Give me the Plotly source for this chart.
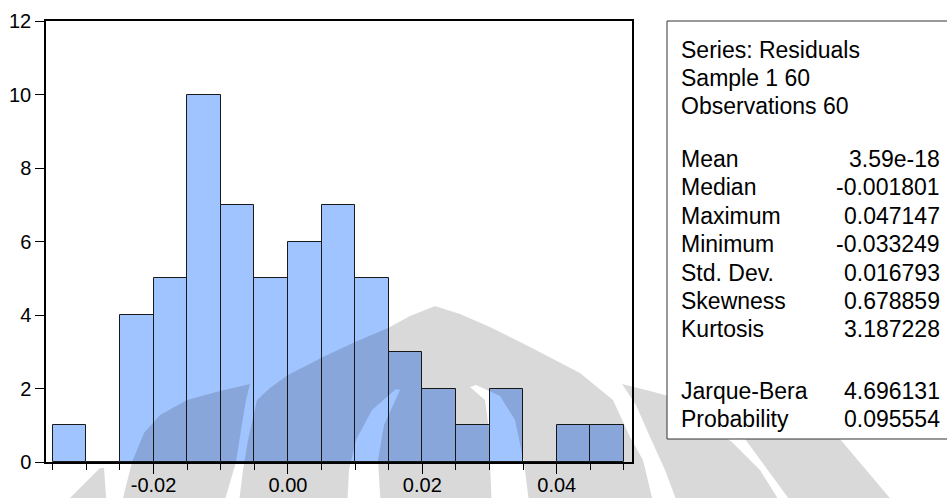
import plotly.graph_objects as go

# ---------------- data ----------------
bin_left = [-0.035, -0.030, -0.025, -0.020, -0.015, -0.010, -0.005, 0.000,
            0.005, 0.010, 0.015, 0.020, 0.025, 0.030, 0.035, 0.040, 0.045]
counts = [1, 0, 4, 5, 10, 7, 5, 6, 7, 5, 3, 2, 1, 2, 0, 1, 1]
bin_width = 0.005

x_tickvals = [-0.02, 0.00, 0.02, 0.04]
x_ticktext = ["-0.02", "0.00", "0.02", "0.04"]
y_tickvals = [0, 2, 4, 6, 8, 10, 12]

stat_header = ["Series: Residuals", "Sample 1 60", "Observations 60"]
stat_names = ["Mean", "Median", "Maximum", "Minimum", "Std. Dev.", "Skewness", "Kurtosis"]
stat_values = ["3.59e-18", "-0.001801", "0.047147", "-0.033249", "0.016793", "0.678859", "3.187228"]
test_names = ["Jarque-Bera", "Probability"]
test_values = ["4.696131", "0.095554"]

# ---------------- layout geometry ----------------
W, H = 947, 498
ML, MR, MT, MB = 46, 315, 21, 36
PW = W - ML - MR
PH = H - MT - MB


def px(x):
    return (x - ML) / PW


def py(y):
    return (H - MB - y) / PH


def path_from(points, close=True):
    s = "M " + " L ".join(f"{px(a):.5f},{py(b):.5f}" for a, b in points)
    return s + (" Z" if close else "")


centers = [b + bin_width / 2 for b in bin_left]

FONT = "Arial, Liberation Sans, Helvetica, sans-serif"

fig = go.Figure()
fig.add_trace(go.Bar(
    x=centers, y=counts, width=bin_width,
    marker=dict(color="#A0C4FF", line=dict(color="#1a1a1a", width=1)),
    showlegend=False, hoverinfo="x+y",
))

# background watermark (decoration, approximate)
wm_polys = [
    # central arch with two thin gaps
    [(238, 510), (243, 470), (248, 440), (257, 400), (270, 388), (288, 375), (323, 357),
     (355, 342), (388, 328), (410, 316), (435, 306), (460, 314), (490, 327), (530, 347),
     (580, 373), (613, 400), (630, 437), (643, 460), (655, 510),
     (530, 510), (524, 463), (515, 420), (500, 396), (476, 385),
     (470, 387), (485, 400), (489, 430), (490, 463), (492, 510),
     (381, 510), (378, 460), (384, 425), (400, 390),
     (396, 389), (372, 410), (356, 440), (349, 470), (347, 510)],
    # left wing
    [(120, 510), (132, 462), (144, 433), (160, 415), (187, 400), (220, 391), (250, 384),
     (246, 400), (241, 430), (236, 462), (222, 510)],
    # far-left wedge
    [(58, 510), (100, 468), (104, 468), (107, 510)],
    # right wing
    [(622, 384), (650, 391), (683, 400), (710, 415), (728, 439), (733, 443), (760, 470),
     (785, 510), (680, 510), (665, 470), (650, 437), (636, 405)],
    # far-right piece
    [(745, 439), (840, 439), (900, 510), (797, 510)],
]

shapes = []
for poly in wm_polys:
    shapes.append(dict(type="path", xref="paper", yref="paper", path=path_from(poly),
                       fillcolor="rgba(0,0,0,0.15)", line=dict(width=0), layer="above"))

# statistics box (white panel, border on left/top/bottom; right edge runs off the image)
box_l, box_r, box_t, box_b = 667, 947, 21, 439
shapes.append(dict(type="rect", xref="paper", yref="paper",
                   x0=px(box_l), x1=px(box_r + 5), y0=py(box_b), y1=py(box_t),
                   fillcolor="white", line=dict(width=0), layer="above"))
for (a, b), (c, d) in [((box_l, box_t), (box_r, box_t)),
                       ((box_l, box_t), (box_l, box_b)),
                       ((box_l, box_b), (box_r, box_b))]:
    shapes.append(dict(type="line", xref="paper", yref="paper",
                       x0=px(a), y0=py(b), x1=px(c), y1=py(d),
                       line=dict(color="#333333", width=1), layer="above"))

annotations = []
LX, RX = px(679), px(942)
header_y = [50, 78, 106]
for t, yy in zip(stat_header, header_y):
    annotations.append(dict(x=LX, y=py(yy), xref="paper", yref="paper", text=t,
                            showarrow=False, xanchor="left", yanchor="middle",
                            font=dict(family=FONT, size=23, color="black")))
stat_y = [158.5, 187, 215.5, 244, 272.5, 301, 329.5]
for n, v, yy in zip(stat_names, stat_values, stat_y):
    annotations.append(dict(x=LX, y=py(yy), xref="paper", yref="paper", text=n,
                            showarrow=False, xanchor="left", yanchor="middle",
                            font=dict(family=FONT, size=23, color="black")))
    annotations.append(dict(x=RX, y=py(yy), xref="paper", yref="paper", text=v,
                            showarrow=False, xanchor="right", yanchor="middle",
                            font=dict(family=FONT, size=23, color="black")))
test_y = [391, 419]
for n, v, yy in zip(test_names, test_values, test_y):
    annotations.append(dict(x=LX, y=py(yy), xref="paper", yref="paper", text=n,
                            showarrow=False, xanchor="left", yanchor="middle",
                            font=dict(family=FONT, size=23, color="black")))
    annotations.append(dict(x=RX, y=py(yy), xref="paper", yref="paper", text=v,
                            showarrow=False, xanchor="right", yanchor="middle",
                            font=dict(family=FONT, size=23, color="black")))

fig.update_layout(
    width=W, height=H,
    margin=dict(l=ML, r=MR, t=MT, b=MB, pad=0, autoexpand=False),
    paper_bgcolor="white", plot_bgcolor="white",
    bargap=0, showlegend=False,
    shapes=shapes, annotations=annotations,
    font=dict(family=FONT, color="black"),
    xaxis=dict(
        range=[-0.036, 0.0512], showgrid=False, zeroline=False, automargin=False,
        showline=True, linecolor="black", linewidth=1.5, mirror=True,
        ticks="outside", ticklen=10, tickwidth=1, tickcolor="black",
        ticklabelstandoff=-6,
        tickvals=x_tickvals, ticktext=x_ticktext,
        tickfont=dict(family=FONT, size=20, color="black"),
        minor=dict(dtick=bin_width, tick0=0, ticks="outside", ticklen=6,
                   tickwidth=1, tickcolor="black", showgrid=False),
    ),
    yaxis=dict(
        range=[0, 12], showgrid=False, zeroline=False, automargin=False,
        showline=True, linecolor="black", linewidth=1.5, mirror=True,
        ticks="outside", ticklen=9, tickwidth=1, tickcolor="black",
        tickvals=y_tickvals,
        tickfont=dict(family=FONT, size=20, color="black"),
    ),
)

fig.write_html("out.html")
